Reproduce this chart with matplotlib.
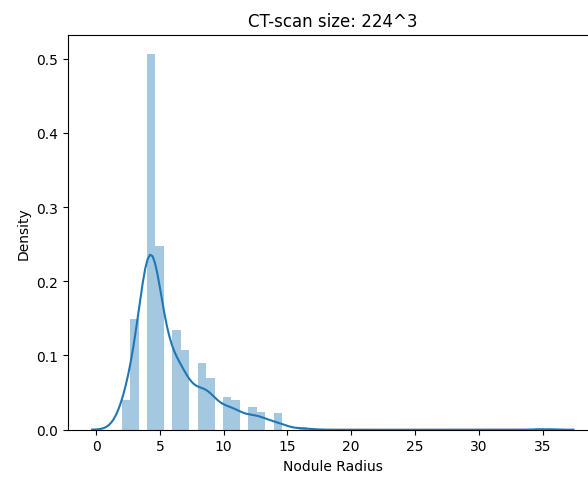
import numpy as np
import matplotlib
matplotlib.use("Agg")
import matplotlib.pyplot as plt

# Nodule radius values and how many nodules have each value
radius_values = [2.0, 2.6, 2.72, 3.25, 4.0, 4.35, 4.7, 5.28, 6.0, 6.55, 6.66, 7.25,
                 8.0, 8.55, 8.65, 9.25, 9.99, 10.5, 10.66, 11.2, 11.98, 12.5,
                 12.64, 13.15, 13.97, 14.5, 16.2, 35.1]
radius_counts = [10, 10, 38, 37, 150, 104, 54, 70, 38, 29, 30, 24,
                 23, 22, 16, 19, 11, 11, 10, 10, 8, 7,
                 6, 6, 6, 5, 2, 1]

title = "CT-scan size: 224^3"
xlabel = "Nodule Radius"
ylabel = "Density"
n_bins = 50

data = np.repeat(np.array(radius_values, dtype=float), radius_counts)

fig = plt.figure(figsize=(5.88, 4.81), dpi=100)
ax = fig.add_axes([68 / 588, 1 - 430.7 / 481, 529.5 / 588, 395 / 481])

color = "#1f77b4"
ax.hist(data, bins=n_bins, density=True, color=color, alpha=0.4)

# Gaussian KDE (Scott's rule), as seaborn's distplot does
n = data.size
bw = np.std(data, ddof=1) * n ** (-1 / 5)
grid = np.linspace(data.min() - 3 * bw, data.max() + 3 * bw, 200)
dens = np.exp(-0.5 * ((grid[:, None] - data[None, :]) / bw) ** 2).sum(axis=1) / (n * bw * np.sqrt(2 * np.pi))
ax.plot(grid, dens, color=color, lw=1.5)

ax.set_title(title)
ax.set_xlabel(xlabel)
ax.set_ylabel(ylabel)

fig.savefig("out.png", dpi=100)
